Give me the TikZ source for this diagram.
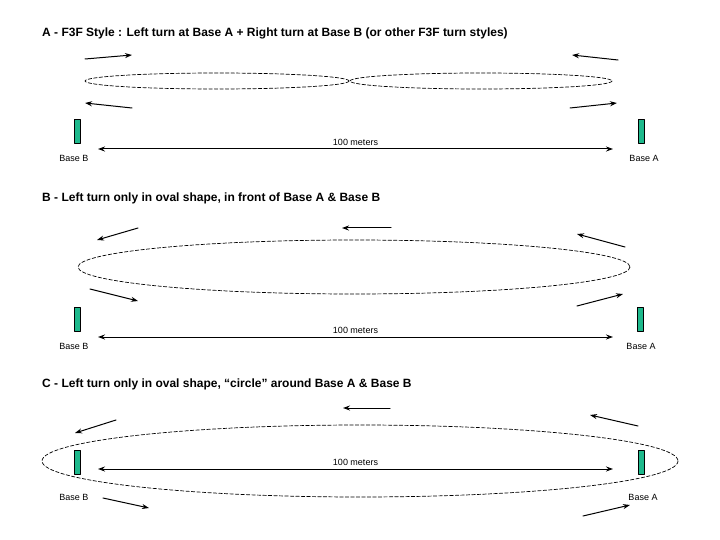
\documentclass[tikz,border=0pt]{standalone}
\usepackage{fontspec}
\setmainfont{Liberation Sans}
\usetikzlibrary{arrows.meta}
\definecolor{basegreen}{RGB}{30,185,140}
\tikzset{
  pylon/.style={draw,fill=basegreen,minimum width=6pt,minimum height=24pt,inner sep=0pt,line width=0.9pt},
  turn/.style={->,line width=1pt},
  course/.style={<->,line width=1pt},
  track/.style={dash pattern=on 3.5pt off 2pt,line width=0.7pt},
  heading/.style={anchor=base west,inner sep=0pt,font=\fontsize{12}{14}\selectfont\bfseries},
  small/.style={font=\fontsize{9}{11}\selectfont}
}
\begin{document}
\begin{tikzpicture}[x=1pt,y=-1pt,>={Stealth[length=7pt,width=5pt]},line join=round,line cap=round]
	\useasboundingbox (0,0) rectangle (720,540);
	\node[heading] (tA) at (42,37) {A - F3F Style : Left turn at Base A + Right turn at Base B (or other F3F turn styles)};
	\draw[track] (217,81) ellipse [x radius=132,y radius=8];
	\draw[track] (481,81) ellipse [x radius=131,y radius=8];
	\draw[turn] (85,59) -- (132,55);
	\draw[turn] (132,108) -- (85,103);
	\draw[turn] (618,60) -- (572,55);
	\draw[turn] (570,108) -- (617,103);
	\node[pylon] (pBa) at (77,131) {};
	\node[pylon] (pAa) at (641,131) {};
	\node[small] (nBa) at (74,158) {Base B};
	\node[small] (nAa) at (644,158) {Base A};
	\coordinate (lA) at (98,149);
	\coordinate (rA) at (613,149);
	\draw[course] (lA) -- node[small,above] (dA) {100 meters} (rA);

	\node[heading] (tB) at (42,202) {B - Left turn only in oval shape, in front of Base A \& Base B};
	\draw[track] (354,267) ellipse [x radius=276,y radius=27];
	\draw[turn] (138,228) -- (97,240);
	\draw[turn] (391,228) -- (342,228);
	\draw[turn] (625,247) -- (577,234);
	\draw[turn] (90,289) -- (138,301);
	\draw[turn] (577,306) -- (623,294);
	\node[pylon] (pBb) at (77,319) {};
	\node[pylon] (pAb) at (640,319) {};
	\node[small] (nBb) at (74,346) {Base B};
	\node[small] (nAb) at (641,346) {Base A};
	\coordinate (lB) at (98,337);
	\coordinate (rB) at (613,337);
	\draw[course] (lB) -- node[small,above] (dB) {100 meters} (rB);

	\node[heading] (tC) at (42,387) {C - Left turn only in oval shape, “circle” around Base A \& Base B};
	\draw[track] (360,461) ellipse [x radius=318,y radius=36];
	\draw[turn] (116,420) -- (75,433);
	\draw[turn] (390,408) -- (343,408);
	\draw[turn] (638,426) -- (590,415);
	\draw[turn] (103,498) -- (149,508);
	\draw[turn] (583,516) -- (630,505);
	\node[pylon] (pBc) at (77,462) {};
	\node[pylon] (pAc) at (641,462) {};
	\node[small] (nBc) at (74,497) {Base B};
	\node[small] (nAc) at (643,497) {Base A};
	\coordinate (lC) at (98,469);
	\coordinate (rC) at (613,469);
	\draw[course] (lC) -- node[small,above] (dC) {100 meters} (rC);
\end{tikzpicture}
\end{document}
